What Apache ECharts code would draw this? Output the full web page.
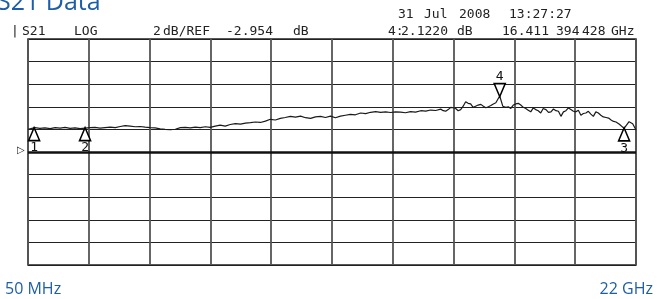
<!DOCTYPE html>
<html>
<head>
<meta charset="utf-8">
<script src="https://cdn.jsdelivr.net/npm/echarts@6/dist/echarts.min.js"></script>
<style>
  html, body { margin: 0; padding: 0; background: #fff; }
  #chart { width: 657px; height: 299px; }
</style>
</head>
<body>
<div id="chart"></div>
<script>
  // S21 sweep, 50 MHz .. 22 GHz, 2 dB/div, ref -2.954 dB
  const REF = -2.954
  const DB_PER_DIV = 2
  const freqStart = 0.05
  const freqStop = 22

  const freqs = [0.05, 0.12, 0.30, 0.48, 0.66, 0.85, 1.03, 1.21, 1.39, 1.57, 1.75, 1.93, 2.11, 2.29, 2.47, 2.65,
    2.83, 3.02, 3.20, 3.38, 3.56, 3.74, 3.92, 4.10, 4.28, 4.46, 4.64, 4.82, 5.00, 5.19, 5.37, 5.55,
    5.73, 5.91, 6.09, 6.27, 6.45, 6.63, 6.81, 6.99, 7.17, 7.35, 7.54, 7.72, 7.90, 8.08, 8.26, 8.44,
    8.62, 8.80, 8.98, 9.16, 9.34, 9.52, 9.71, 9.89, 10.07, 10.25, 10.43, 10.61, 10.79, 10.97, 11.15, 11.33,
    11.51, 11.69, 11.87, 12.06, 12.24, 12.42, 12.60, 12.78, 12.96, 13.14, 13.32, 13.50, 13.68, 13.86, 14.04, 14.23,
    14.41, 14.59, 14.77, 14.95, 15.04, 15.13, 15.22, 15.31, 15.40, 15.49, 15.58, 15.67, 15.76, 15.85, 15.94, 16.03,
    16.12, 16.21, 16.30, 16.40, 16.49, 16.58, 16.67, 16.76, 16.85, 16.94, 17.08, 17.19, 17.30, 17.39, 17.48, 17.57,
    17.66, 17.75, 17.84, 17.93, 18.02, 18.11, 18.20, 18.29, 18.38, 18.47, 18.56, 18.65, 18.75, 18.84, 18.93, 19.02,
    19.11, 19.20, 19.29, 19.38, 19.47, 19.56, 19.65, 19.74, 19.83, 19.92, 20.01, 20.10, 20.19, 20.28, 20.37, 20.46,
    20.55, 20.64, 20.73, 20.82, 20.92, 21.01, 21.10, 21.19, 21.28, 21.40, 21.57, 21.75, 21.88, 22.00]
  const s21 = [-0.95, -0.88, -0.80, -0.86, -0.82, -0.88, -0.80, -0.84, -0.78, -0.86, -0.82, -0.88, -0.84, -0.80, -0.78, -0.84,
    -0.80, -0.76, -0.80, -0.70, -0.62, -0.66, -0.72, -0.70, -0.76, -0.80, -0.82, -0.90, -0.96, -0.98, -0.94, -0.80,
    -0.78, -0.82, -0.76, -0.80, -0.72, -0.78, -0.66, -0.58, -0.66, -0.52, -0.44, -0.48, -0.40, -0.36, -0.30, -0.34,
    -0.22, -0.06, -0.12, 0.02, 0.10, 0.20, 0.14, 0.22, 0.08, 0.02, 0.16, 0.20, 0.10, 0.22, 0.08, 0.22,
    0.30, 0.38, 0.34, 0.50, 0.44, 0.56, 0.62, 0.56, 0.60, 0.54, 0.60, 0.58, 0.52, 0.62, 0.58, 0.70,
    0.66, 0.76, 0.72, 0.84, 0.70, 0.66, 0.80, 1.00, 0.96, 0.90, 0.70, 0.80, 1.10, 1.50, 1.35, 1.30,
    1.00, 1.10, 1.20, 1.26, 1.10, 0.96, 1.05, 1.16, 1.30, 1.40, 2.00, 1.10, 1.00, 1.05, 0.90, 1.20,
    1.30, 1.35, 1.20, 1.00, 0.90, 0.75, 0.60, 0.95, 0.80, 0.70, 0.50, 0.90, 0.80, 0.55, 0.60, 0.85,
    0.70, 0.65, 0.20, 0.60, 0.70, 0.95, 0.80, 0.65, 0.60, 0.75, 0.30, 0.45, 0.50, 0.65, 0.40, 0.20,
    0.60, 0.50, 0.30, 0.15, 0.10, 0.05, -0.12, -0.25, -0.30, -0.50, -0.86, -0.27, -0.45, -1.00]

  const markerNames = ['1', '2', '3', '4']
  const markerFreqs = [0.27, 2.11, 21.57, 17.08]
  const markerDb = [-0.85, -0.84, -0.86, 2.00]

  const BLUE = '#1d5ea8'
  const INK = '#222'
  const MONO = '"DejaVu Sans Mono", "Liberation Mono", monospace'
  const SANS = '"Open Sans", "Noto Sans", sans-serif'

  let upTri = 'path://M5,0 L10,11 L0,11 Z'
  let downTri = 'path://M0,0 L10,0 L5,11 Z'

  let markerData = markerNames.map((n, i) => {
    let up = n !== '4'
    return {
      value: [markerFreqs[i], markerDb[i]],
      name: n,
      symbol: up ? upTri : downTri,
      symbolOffset: [0, up ? 6 : -6],
      label: {
        show: true,
        formatter: n,
        position: up ? 'bottom' : 'top',
        distance: 0,
        fontFamily: MONO,
        fontSize: 13,
        color: '#111'
      }
    }
  })

  // header words of the analyser screen: [text, x, y]
  const headerWords = [
    ['|', 11, 32], ['S21', 22, 32], ['LOG', 74, 32],
    ['2', 153, 32], ['dB/REF', 163, 32], ['-2.954', 226, 32], ['dB', 293, 32],
    ['31', 398, 15], ['Jul', 424, 15], ['2008', 459, 15], ['13:27:27', 509, 15],
    ['4:', 388, 32], ['2.1220', 401, 32], ['dB', 457, 32],
    ['16.411', 502, 32], ['394', 556, 32], ['428', 582, 32], ['GHz', 611, 32]
  ]

  let graphics = headerWords.map(w => ({
    type: 'text', left: w[1], top: w[2] - 7,
    style: { text: w[0], font: '13px ' + MONO, fill: INK }
  }))
  graphics.push(
    { type: 'text', left: -3, top: -10, style: { text: 'S21 Data', font: '25px ' + SANS, fill: BLUE } },
    { type: 'text', left: 5, top: 281, style: { text: '50 MHz', font: '16px ' + SANS, fill: BLUE } },
    { type: 'text', right: 4, top: 281, style: { text: '22 GHz', font: '16px ' + SANS, fill: BLUE } },
    { type: 'text', left: 17, top: 145, style: { text: '▷', font: '10px "DejaVu Sans"', fill: INK } }
  )

  let myChart = echarts.init(document.getElementById('chart'), null, { renderer: 'canvas' })
  myChart.setOption({
    animation: false,
    backgroundColor: '#fff',
    grid: {
      left: 28, right: 21, top: 39, bottom: 34,
      show: true, borderColor: INK, borderWidth: 1.5, backgroundColor: 'transparent'
    },
    xAxis: [
      { type: 'value', min: freqStart, max: freqStop, show: false },
      {
        type: 'value', min: 0, max: 10, interval: 1,
        axisLine: { show: false }, axisTick: { show: false }, axisLabel: { show: false },
        splitLine: { show: true, lineStyle: { color: '#555', width: 1.8 } }
      }
    ],
    yAxis: [
      { type: 'value', min: REF - 5 * DB_PER_DIV, max: REF + 5 * DB_PER_DIV, show: false },
      {
        type: 'value', min: 0, max: 10, interval: 1,
        axisLine: { show: false }, axisTick: { show: false }, axisLabel: { show: false },
        splitLine: { show: true, lineStyle: { color: INK, width: 1.2 } }
      }
    ],
    graphic: graphics,
    series: [
      {
        type: 'line',
        data: freqs.map((f, i) => [f, s21[i]]),
        showSymbol: false,
        lineStyle: { color: '#1a1a1a', width: 1.2 },
        markLine: {
          silent: true,
          symbol: 'none',
          label: { show: false },
          lineStyle: { color: '#111', width: 2.6, type: 'solid' },
          data: [{ yAxis: REF }]
        },
        z: 3
      },
      {
        type: 'scatter',
        data: markerData,
        symbolSize: [11, 13],
        itemStyle: { color: '#fff', borderColor: '#000', borderWidth: 1.6, opacity: 1 },
        z: 4
      }
    ]
  })
</script>
</body>
</html>
